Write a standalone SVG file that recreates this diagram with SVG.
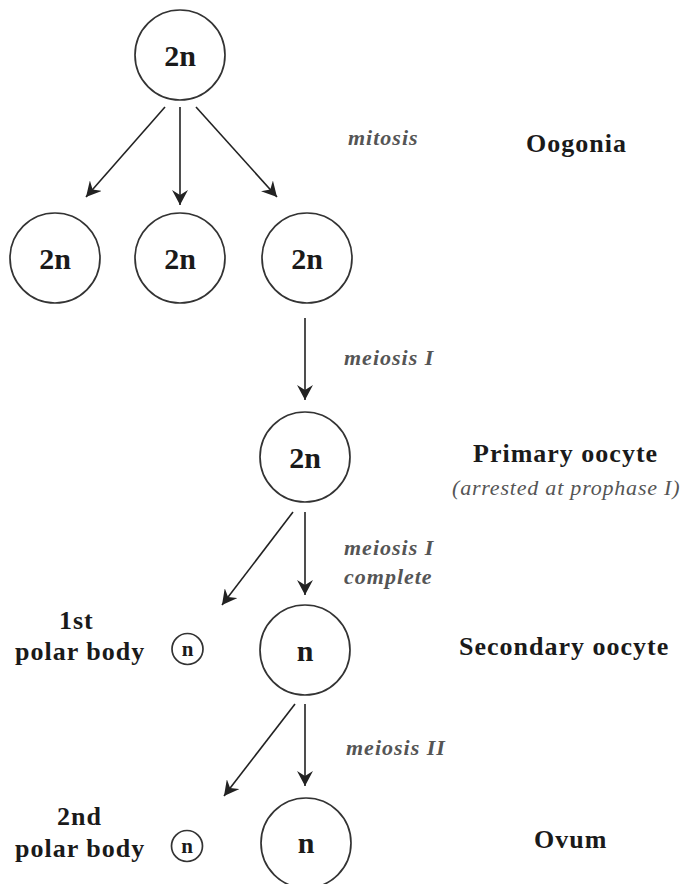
<svg xmlns="http://www.w3.org/2000/svg" width="684" height="884" viewBox="0 0 684 884">
<style>
  .cell { fill: #ffffff; stroke: #333333; stroke-width: 1.7; }
  .ploidy { font-family: "Liberation Serif", "Times New Roman", serif; font-weight: bold; font-size: 30px; fill: #1a1a1a; text-anchor: middle; }
  .ploidy-s { font-family: "Liberation Serif", "Times New Roman", serif; font-weight: bold; font-size: 21px; fill: #1a1a1a; text-anchor: middle; }
  .label { font-family: "Liberation Serif", "Times New Roman", serif; font-weight: bold; font-size: 26px; fill: #1a1a1a; letter-spacing: 1px; }
  .proc { font-family: "Liberation Serif", "Times New Roman", serif; font-weight: bold; font-style: italic; font-size: 22px; fill: #555555; letter-spacing: 1px; }
  .note { font-family: "Liberation Serif", "Times New Roman", serif; font-style: italic; font-size: 22px; fill: #555555; letter-spacing: 0.8px; }
  .conn { stroke: #222222; stroke-width: 1.6; fill: none; marker-end: url(#arrow); }
</style>
<defs>
  <marker id="arrow" viewBox="0 0 15 16" refX="15" refY="8" markerWidth="15" markerHeight="16" markerUnits="userSpaceOnUse" orient="auto">
    <path d="M0,0 L15,8 L0,16 L5,8 Z" fill="#222222"/>
  </marker>
</defs>
<rect width="684" height="884" fill="#ffffff"/>

<g id="connectors">
  <line class="conn" x1="165" y1="107" x2="86" y2="197"/>
  <line class="conn" x1="180" y1="107" x2="180" y2="205"/>
  <line class="conn" x1="196" y1="107" x2="277" y2="197"/>
  <line class="conn" x1="305" y1="318" x2="305" y2="400"/>
  <line class="conn" x1="293" y1="512" x2="222" y2="605"/>
  <line class="conn" x1="305" y1="512" x2="305" y2="595"/>
  <line class="conn" x1="295" y1="704" x2="224" y2="796"/>
  <line class="conn" x1="305" y1="704" x2="305" y2="786"/>
</g>

<g id="oogonium-top">
  <circle class="cell" cx="180" cy="55" r="45"/>
  <text class="ploidy" x="180" y="66">2n</text>
</g>
<g id="oogonium-1">
  <circle class="cell" cx="55" cy="258" r="45"/>
  <text class="ploidy" x="55" y="269">2n</text>
</g>
<g id="oogonium-2">
  <circle class="cell" cx="180" cy="258" r="45"/>
  <text class="ploidy" x="180" y="269">2n</text>
</g>
<g id="oogonium-3">
  <circle class="cell" cx="307" cy="258" r="45"/>
  <text class="ploidy" x="307" y="269">2n</text>
</g>
<g id="primary-oocyte">
  <circle class="cell" cx="305" cy="457" r="45"/>
  <text class="ploidy" x="305" y="468">2n</text>
</g>
<g id="secondary-oocyte">
  <circle class="cell" cx="305" cy="650" r="45"/>
  <text class="ploidy" x="305" y="661">n</text>
</g>
<g id="first-polar-body">
  <circle class="cell" cx="187.5" cy="649" r="15.5"/>
  <text class="ploidy-s" x="187.5" y="656">n</text>
</g>
<g id="ovum">
  <circle class="cell" cx="306" cy="843" r="45"/>
  <text class="ploidy" x="306" y="853">n</text>
</g>
<g id="second-polar-body">
  <circle class="cell" cx="187" cy="846" r="15.5"/>
  <text class="ploidy-s" x="187" y="853">n</text>
</g>

<g id="labels">
  <text class="proc" x="348" y="145">mitosis</text>
  <text class="label" x="526" y="152">Oogonia</text>
  <text class="proc" x="344" y="365">meiosis I</text>
  <text class="label" x="473" y="462">Primary oocyte</text>
  <text class="note" x="452" y="495">(arrested at prophase I)</text>
  <text class="proc" x="344" y="555">meiosis I</text>
  <text class="proc" x="344" y="584">complete</text>
  <text class="label" x="59" y="629">1st</text>
  <text class="label" x="15" y="660">polar body</text>
  <text class="label" x="459" y="655">Secondary oocyte</text>
  <text class="proc" x="346" y="755">meiosis II</text>
  <text class="label" x="57" y="825">2nd</text>
  <text class="label" x="15" y="857">polar body</text>
  <text class="label" x="534" y="848">Ovum</text>
</g>
</svg>
